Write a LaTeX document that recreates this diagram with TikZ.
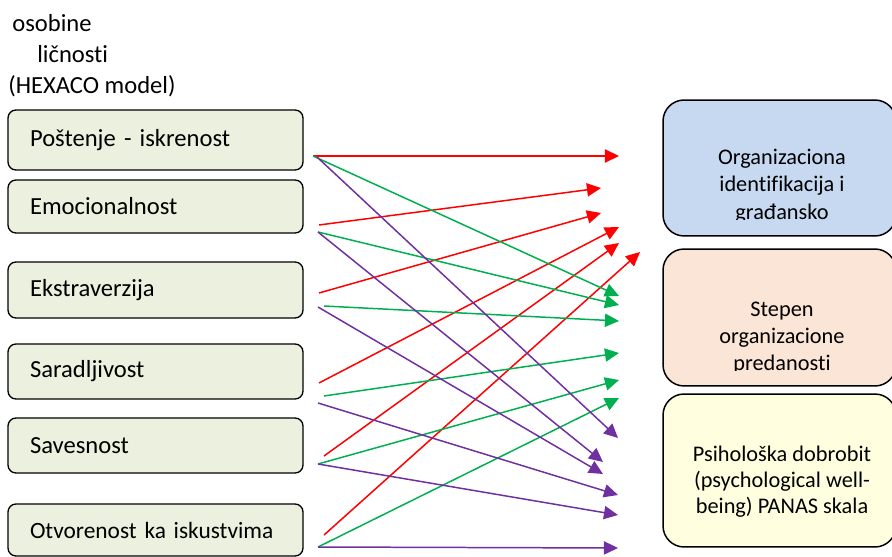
\documentclass[tikz,border=0pt]{standalone}
\usepackage{fontspec}
\setmainfont[Ligatures=NoCommon]{Carlito}
\usepackage{tikz}
\usetikzlibrary{arrows.meta}
\definecolor{traitfill}{HTML}{EBF1DE}
\definecolor{identfill}{HTML}{C6D9F1}
\definecolor{commitfill}{HTML}{FBE5D6}
\definecolor{wellfill}{HTML}{FFFFE0}
\definecolor{arrred}{HTML}{FF0000}
\definecolor{arrgreen}{HTML}{00B050}
\definecolor{arrpurple}{HTML}{7030A0}
\tikzset{basic/.style={draw,line width=0.75pt,fill=traitfill,rounded corners=4.5pt,
                       inner xsep=0.44cm,inner ysep=0pt,text width=5.02cm,align=left,
                       font=\fontsize{14}{17}\selectfont}}
\tikzset{outcome/.style={draw,line width=0.85pt,rounded corners=12pt,minimum width=4.66cm}}

\begin{document}
\begin{tikzpicture}[x=0.02cm,y=-0.02cm]
    \tikzstyle{headtxt}=[inner sep=0pt,anchor=base west,font=\fontsize{14}{17}\selectfont]
    \tikzstyle{boxtxt}=[inner sep=0pt,anchor=base,font=\fontsize{12.7}{15}\selectfont]
    \tikzstyle{traitarrow}=[line width=0.85pt,-{Triangle[length=8pt,width=7.5pt]}]
    \useasboundingbox (0,0) rectangle (892,557);

    % Labels
    \node[headtxt] (head1) at (12,32) {osobine};
    \node[headtxt] (head2) at (37,63) {ličnosti};
    \node[headtxt] (head3) at (8,94) {(HEXACO model)};

    % traits
    \node[basic,minimum height=1.2cm]  (hon) at (155.5,140)   {Poštenje - iskrenost};
    \node[basic,minimum height=1.06cm] (emo) at (155.5,206.5) {Emocionalnost};
    \node[basic,minimum height=1.12cm] (ext) at (155.5,290)   {Ekstraverzija};
    \node[basic,minimum height=1.1cm]  (agr) at (155.5,371.5) {Saradljivost};
    \node[basic,minimum height=1.1cm]  (con) at (155.5,445.5) {Savesnost};
    \node[basic,minimum height=1.04cm,font=\fontsize{13.3}{16}\selectfont]
                                       (ope) at (155.5,530)   {Otvorenost ka iskustvima};

    % outcomes
    \node[outcome,fill=identfill,minimum height=2.72cm]  (ident)  at (779.5,168)   {};
    \node[outcome,fill=commitfill,minimum height=2.74cm] (commit) at (779.5,317.5) {};
    \node[outcome,fill=wellfill,minimum height=3.06cm]   (well)   at (779.5,470.5) {};
    \begin{scope}
      \clip (663,100) rectangle (896,220);
      \foreach \t [count=\i] in {Organizaciona,identifikacija i,građansko}
        \node[boxtxt] (ident\i) at (782,138+\i*27) {\t};
    \end{scope}
    \begin{scope}
      \clip (663,249) rectangle (896,370);
      \foreach \t [count=\i] in {Stepen,organizacione,predanosti}
        \node[boxtxt] (commit\i) at (782,289+\i*27) {\t};
    \end{scope}
    \foreach \t [count=\i] in {{Psihološka dobrobit},{(psychological well-},{being) PANAS skala}}
      \node[boxtxt] (well\i) at (782,435+\i*26) {\t};

    % arrows
    \foreach \xa/\ya/\xb/\yb [count=\i] in {313/156/619/156,319/225/601/188,319/293/601/213,
                                            319/383/619/227,324/456/619/243,324/535/640/252}{%
      \coordinate (rs\i) at (\xa,\ya);
      \coordinate (re\i) at (\xb,\yb);
      \draw[traitarrow,arrred] (rs\i) -- (re\i);
    }
    \foreach \xa/\ya/\xb/\yb [count=\i] in {313/156/619/296,318/232/619/305,324/306/619/321,
                                            324/396/619/353,318/464/619/380,318/547/619/398}{%
      \coordinate (gs\i) at (\xa,\ya);
      \coordinate (ge\i) at (\xb,\yb);
      \draw[traitarrow,arrgreen] (gs\i) -- (ge\i);
    }
    \foreach \xa/\ya/\xb/\yb [count=\i] in {317/157/618/438,318/232/603/462,318/307/603/474,
                                            318/403/618/495,318/464/618/515,318/547/618/548}{%
      \coordinate (ps\i) at (\xa,\ya);
      \coordinate (pe\i) at (\xb,\yb);
      \draw[traitarrow,arrpurple] (ps\i) -- (pe\i);
    }
\end{tikzpicture}
\end{document}
